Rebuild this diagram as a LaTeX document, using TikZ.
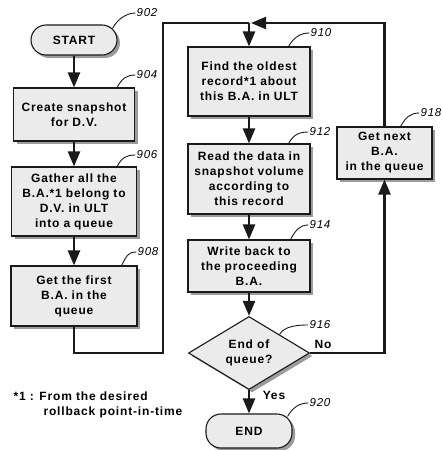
\documentclass[tikz,border=0pt]{standalone}
\usepackage{fontspec}
\setmainfont{Liberation Sans}[LetterSpace=7]
\usetikzlibrary{arrows.meta,shapes.geometric,shadows}
\definecolor{chartLine}{HTML}{1A1A1A}
\definecolor{chartBoxBg}{HTML}{EBEBEB}
\definecolor{chartShadow}{HTML}{9C9C9C}
\begin{document}
\begin{tikzpicture}[
    x=1pt,y=-1pt,
    every node/.style={font=\fontsize{12}{15}\selectfont\bfseries,align=center},
    stepbox/.style={draw=chartLine,fill=chartBoxBg,line width=1.1pt,inner sep=2pt,drop shadow={shadow xshift=3pt,shadow yshift=-3pt,fill=chartShadow,opacity=1}},
    terminal/.style={stepbox,rounded corners=15pt,minimum width=86pt},
    decision/.style={stepbox,diamond,inner sep=0pt,minimum width=121pt,minimum height=70pt},
    refnum/.style={font=\fontsize{11.5}{13}\selectfont\itshape,inner sep=1pt},
    leader/.style={draw=chartLine,line width=0.9pt},
    link/.style={draw=chartLine,line width=2.4pt},
    flow/.style={link,-{Triangle[length=15pt,width=12pt]}}
]
\useasboundingbox (0,0) rectangle (443,450);
\node[terminal,minimum height=30pt] (start) at (74,40) {START};
\node[stepbox,text width=117pt,minimum height=53pt] (create) at (74,114.5) {Create snapshot\\for D.V.};
\node[stepbox,text width=121pt,minimum height=69pt] (gather) at (74,201.5) {Gather all the\\B.A.*1 belong to\\D.V. in ULT\\into a queue};
\node[stepbox,text width=122pt,minimum height=60pt] (first) at (74,296) {Get the first\\B.A. in the\\queue};
\node[stepbox,text width=118pt,minimum height=69pt] (find) at (249,81.5) {Find the oldest\\record*1 about\\this B.A. in ULT};
\node[stepbox,text width=118pt,minimum height=70pt] (read) at (249,179) {Read the data in\\snapshot volume\\according to\\this record};
\node[stepbox,text width=118pt,minimum height=52pt] (write) at (249,266) {Write back to\\the proceeding\\B.A.};
\node[decision] (check) at (249,353) {End of\\queue?};
\node[terminal,minimum height=34pt] (finish) at (249,431) {END};
\node[stepbox,text width=91pt,minimum height=52pt] (next) at (384.5,153) {Get next\\B.A.\\in the queue};
\node (no) at (323,344) {No};
\node (yes) at (274,395) {Yes};
\node[align=left,anchor=west] (note) at (10,405) {*1 : From the desired\\\hspace*{30pt}rollback point-in-time};
\node[refnum] (n902) at (147,13) {902};
\node[refnum] (n904) at (147,75) {904};
\node[refnum] (n906) at (147,155) {906};
\node[refnum] (n908) at (148,252) {908};
\node[refnum] (n910) at (321,33) {910};
\node[refnum] (n912) at (320,132) {912};
\node[refnum] (n914) at (320,225) {914};
\node[refnum] (n916) at (320,325) {916};
\node[refnum] (n918) at (431,113) {918};
\node[refnum] (n920) at (320,403) {920};
\coordinate (join) at (249,23);
\coordinate (rise) at (163,353);
\draw[flow] (start) -- (create);
\draw[flow] (create) -- (gather);
\draw[flow] (gather) -- (first);
\draw[link] (first.south) |- (rise) |- (join);
\draw[flow] (join) -- (find);
\draw[flow] (find) -- (read);
\draw[flow] (read) -- (write);
\draw[flow] (write) -- (check);
\draw[flow] (check) -- (finish);
\draw[flow] (check.east) -| (next.south);
\draw[flow,shorten >=2pt] (next.north) |- (join);
\draw[leader] ([xshift=-5pt,yshift=-3.8pt]start.north east) .. controls +(5,-9) and +(-9,0) .. (n902.west);
\draw[leader] ([xshift=-18pt]create.north east) .. controls +(5,-9) and +(-9,0) .. (n904.west);
\draw[leader] ([xshift=-20pt]gather.north east) .. controls +(5,-9) and +(-9,0) .. (n906.west);
\draw[leader] ([xshift=-16pt]first.north east) .. controls +(5,-9) and +(-9,0) .. (n908.west);
\draw[leader] ([xshift=-22pt]find.north east) .. controls +(5,-9) and +(-9,0) .. (n910.west);
\draw[leader] ([xshift=-22pt]read.north east) .. controls +(5,-9) and +(-9,0) .. (n912.west);
\draw[leader] ([xshift=-20pt]write.north east) .. controls +(5,-9) and +(-9,0) .. (n914.west);
\draw[leader] (check.north east) .. controls +(5,-9) and +(-9,0) .. (n916.west);
\draw[leader] ([xshift=-32pt]next.north east) .. controls +(5,-9) and +(-9,0) .. (n918.west);
\draw[leader] ([xshift=-5pt,yshift=-3pt]finish.north east) .. controls +(5,-9) and +(-9,0) .. (n920.west);
\end{tikzpicture}
\end{document}
